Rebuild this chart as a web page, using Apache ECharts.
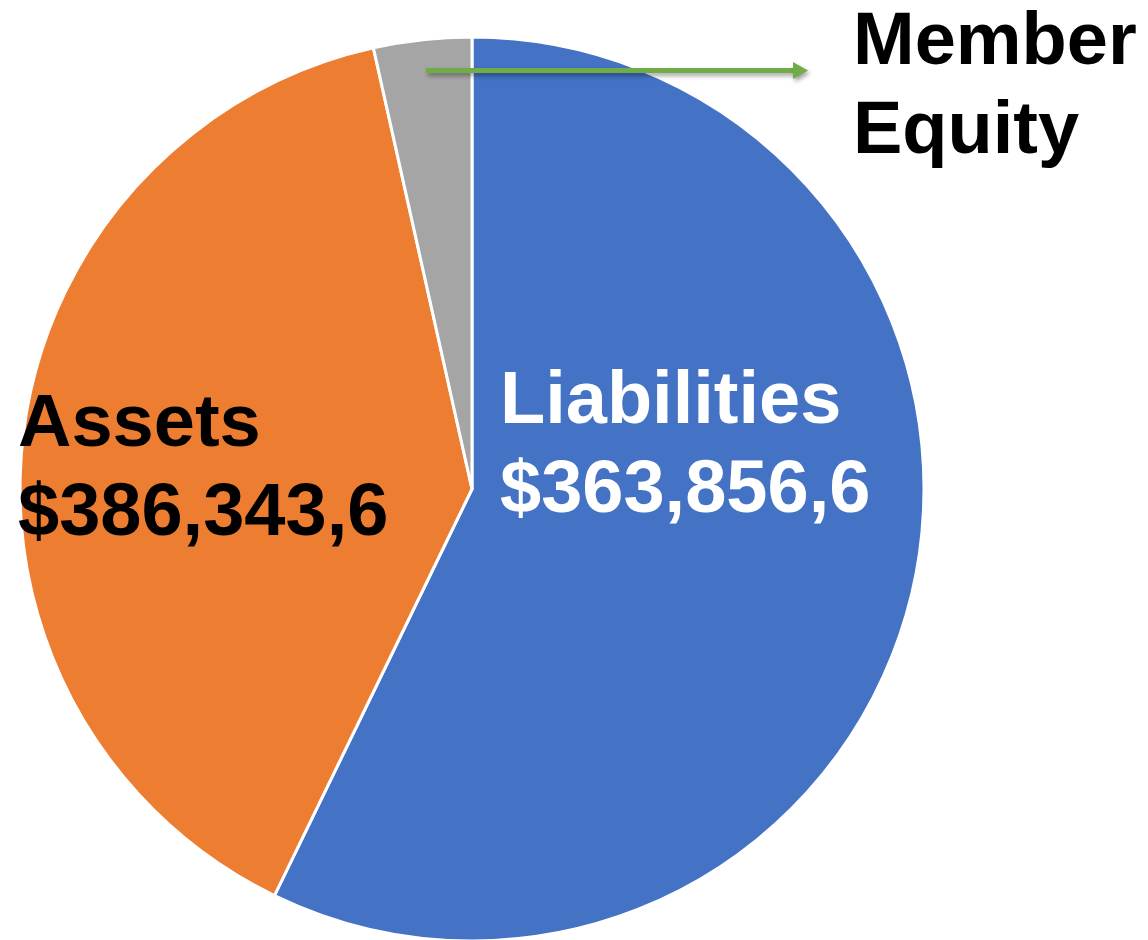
<!DOCTYPE html>
<html>
<head>
<meta charset="utf-8">
<script src="https://cdn.jsdelivr.net/npm/echarts@6/dist/echarts.min.js"></script>
<style>
  html, body { margin: 0; padding: 0; background: #fff; }
  #main { width: 1148px; height: 940px; }
</style>
</head>
<body>
<div id="main"></div>
<script>
// data (share of the pie, %)
const names = ["Liabilities", "Assets", "Member Equity"];
const values = [57.2, 39.3, 3.5];
const amounts = ["$363,856,6", "$386,343,6", ""];
const labelTexts = ["Liabilities", "Assets", "Member\nEquity"];

const colors = ["#4472C4", "#ED7D31", "#A5A5A5"];
const textColors = ["#fff", "#000", "#000"];
// top-left of each label box
const labelPos = [[500, 358], [18, 381], [853, -1]];

const cx = 472, cy = 489, R = 452;

const chart = echarts.init(document.getElementById("main"));

// arrow from the middle of the small slice out to the right
const total = values.reduce((a, b) => a + b, 0);
const before = values[0] + values[1];
const midDeg = ((before + values[2] / 2) / total) * 360;
const ax = cx + 421 * Math.sin((midDeg * Math.PI) / 180);
const ay = cy - 421 * Math.cos((midDeg * Math.PI) / 180);
const tipX = 808;
const arrowShadow = {
  shadowBlur: 4,
  shadowOffsetX: 2,
  shadowOffsetY: 3,
  shadowColor: "rgba(0,0,0,0.35)",
};

const options = {
  animation: false,
  backgroundColor: "#fff",
  series: [
    {
      type: "pie",
      center: [cx, cy],
      radius: R,
      startAngle: 90,
      clockwise: true,
      avoidLabelOverlap: false,
      itemStyle: {
        borderColor: "#fff",
        borderWidth: 3,
      },
      label: {
        show: true,
        position: "inside",
        fontFamily: "Liberation Sans, Arial, sans-serif",
        fontWeight: "bold",
        fontSize: 74,
        lineHeight: 89,
        align: "left",
      },
      labelLine: { show: false },
      emphasis: { disabled: true },
      labelLayout: (params) => {
        const p = labelPos[params.dataIndex];
        return { x: p[0], y: p[1], align: "left", verticalAlign: "top" };
      },
      data: names.map((n, i) => ({
        name: n,
        value: values[i],
        itemStyle: { color: colors[i] },
        label: {
          color: textColors[i],
          formatter: amounts[i] ? labelTexts[i] + "\n" + amounts[i] : labelTexts[i],
        },
      })),
    },
  ],
  graphic: [
    {
      type: "line",
      z: 100,
      shape: { x1: ax, y1: ay, x2: tipX - 12, y2: ay },
      style: Object.assign({ stroke: "#70AD47", lineWidth: 5 }, arrowShadow),
    },
    {
      type: "polygon",
      z: 100,
      shape: { points: [[tipX - 15, ay - 8.5], [tipX, ay], [tipX - 15, ay + 8.5]] },
      style: Object.assign({ fill: "#70AD47" }, arrowShadow),
    },
  ],
};

chart.setOption(options);

window.addEventListener("resize", () => {
  chart.resize();
});
</script>
</body>
</html>
